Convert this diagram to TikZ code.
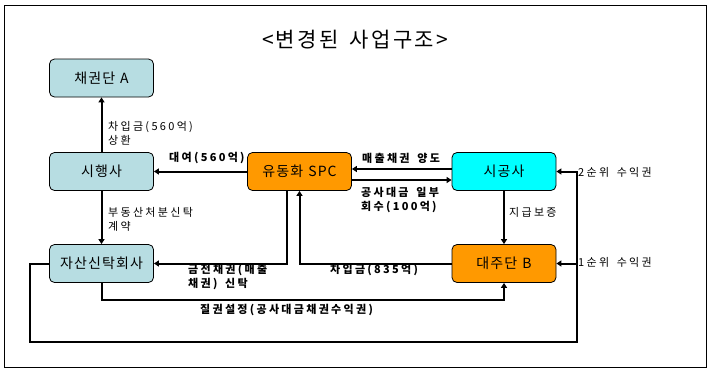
\documentclass[tikz,border=0pt]{standalone}
\usepackage{fontspec}
\setmainfont{Noto Sans CJK KR}
\newfontfamily\labfont{Noto Sans CJK KR}[LetterSpace=21,WordSpace=1.6]
\newfontfamily\boxfont{Noto Sans CJK KR}[LetterSpace=8,WordSpace=1.2]
\newfontfamily\titlefont{Noto Sans CJK KR}[LetterSpace=11,WordSpace=1.6]
\usetikzlibrary{arrows.meta}
\definecolor{boxblue}{RGB}{183,221,226}
\definecolor{boxcyan}{RGB}{0,255,255}
\definecolor{boxorange}{RGB}{255,153,0}
\tikzset{
  box/.style={draw=black, line width=0.8pt, rounded corners=5pt, minimum width=104pt, minimum height=38pt, inner sep=0pt, font=\boxfont\fontsize{14}{16}\selectfont},
  arr/.style={line width=2pt, -{Triangle[length=5pt,width=6pt]}},
  lab/.style={font=\labfont\fontsize{11}{14}\selectfont, inner sep=0pt, align=left},
  blab/.style={font=\labfont\fontsize{11}{14}\selectfont\bfseries, inner sep=0pt, align=left},
}
\begin{document}
\begin{tikzpicture}[x=1pt,y=-1pt]
\useasboundingbox (0,0) rectangle (709,370);
\draw[line width=0.8pt] (4,5) rectangle (706,367);
\node (title) at (355,40) {\titlefont\fontsize{21}{24}\selectfont <변경된 사업구조>};
\node[box, fill=boxblue] (cA) at (101.5,78) {채권단 A};
\node[box, fill=boxblue] (sh) at (101.5,171.5) {시행사};
\node[box, fill=boxorange] (spc) at (299.5,171.5) {유동화 SPC};
\node[box, fill=boxcyan] (sg) at (504,171.5) {시공사};
\node[box, fill=boxblue] (ja) at (101.5,263.5) {자산신탁회사};
\node[box, fill=boxorange] (db) at (504,263.5) {대주단 B};
\coordinate (p1) at (30,263.5);
\coordinate (p2) at (30,342);
\coordinate (p3) at (577,342);
\coordinate (p4) at (577,171.5);
\coordinate (p5) at (577,263.5);
% connectors
\draw[arr] (sh.north) -- (cA.south);
\draw[arr] (spc.west) -- (sh.east);
\draw[arr] (sh.south) -- (ja.north);
\draw[arr] ([yshift=2.5pt]sg.west) -- ([yshift=2.5pt]spc.east);
\draw[arr] ([yshift=-8.5pt]spc.east) -- ([yshift=-8.5pt]sg.west);
\draw[arr] (sg.south) -- (db.north);
\draw[arr] ([xshift=-12.5pt]spc.south) |- (ja.east);
\draw[arr] (db.west) -| (spc.south);
\draw[arr] (ja.south) -- ([yshift=-17pt]ja.south) -| (db.south);
\draw[arr] (ja.west) -- (p1) -- (p2) -- (p3) -- (p4) -- (sg.east);
\draw[arr] (p5) -- (db.east);
% labels
\node[lab, anchor=west] (l1) at (108,133.5) {차입금(560억)\\상환};
\node[blab, anchor=west] (l2) at (169,158) {대여(560억)};
\node[lab, anchor=west] (l3) at (108,219) {부동산처분신탁\\계약};
\node[blab, anchor=west] (l4) at (362,158) {매출채권 양도};
\node[blab, anchor=west] (l5) at (361,200) {공사대금 일부\\회수(100억)};
\node[lab, anchor=west] (l6) at (509,212) {지급보증};
\node[lab, anchor=west] (l7) at (578,172) {2순위 수익권};
\node[lab, anchor=west] (l8) at (578,262) {1순위 수익권};
\node[blab, anchor=west] (l9) at (188,277) {금전채권(매출\\채권) 신탁};
\node[blab, anchor=west] (l10) at (330,270) {차입금(835억)};
\node[blab, anchor=west] (l11) at (200,310) {질권설정(공사대금채권수익권)};
\end{tikzpicture}
\end{document}
